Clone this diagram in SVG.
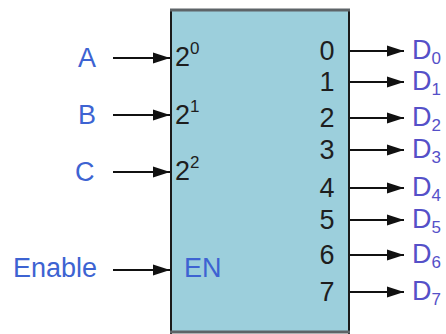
<svg xmlns="http://www.w3.org/2000/svg" width="446" height="334" viewBox="0 0 446 334">
  <style>
    .lbl { font-family: "Liberation Sans", Arial, sans-serif; font-size: 27px; fill: #3d63d2; }
    .out { font-family: "Liberation Sans", Arial, sans-serif; font-size: 27px; fill: #5550c8; }
    .pin { font-family: "Liberation Sans", Arial, sans-serif; font-size: 27px; fill: #1e1e1e; }
    .sup { font-size: 17px; }
    .wire { stroke: #111; stroke-width: 2; fill: none; marker-end: url(#head); }
  </style>
  <defs>
    <marker id="head" markerUnits="userSpaceOnUse" markerWidth="17" markerHeight="12" refX="17" refY="6" orient="auto">
      <polygon points="0,0.5 17,6 0,11.5" fill="#111"/>
    </marker>
  </defs>
  <rect width="446" height="334" fill="#ffffff"/>

  <!-- decoder block -->
  <g id="decoder">
    <rect x="171" y="9" width="178" height="324" fill="#9ccfdc"/>
    <line x1="171" y1="9" x2="171" y2="334" stroke="#1a1a1a" stroke-width="2"/>
    <line x1="349" y1="9" x2="349" y2="334" stroke="#1a1a1a" stroke-width="2"/>
    <line x1="170" y1="10" x2="350" y2="10" stroke="#5e6468" stroke-width="3"/>
    <line x1="170" y1="332" x2="350" y2="332" stroke="#5e6468" stroke-width="3"/>
    <!-- input pins -->
    <text class="pin" x="175" y="66">2<tspan class="sup" dy="-12">0</tspan></text>
    <text class="pin" x="175" y="124">2<tspan class="sup" dy="-12">1</tspan></text>
    <text class="pin" x="175" y="180">2<tspan class="sup" dy="-12">2</tspan></text>
    <text class="lbl" x="184" y="277">EN</text>
    <!-- output pins -->
    <g text-anchor="middle">
      <text class="pin" x="327" y="60">0</text>
      <text class="pin" x="327" y="91">1</text>
      <text class="pin" x="327" y="127">2</text>
      <text class="pin" x="327" y="159">3</text>
      <text class="pin" x="327" y="197">4</text>
      <text class="pin" x="327" y="229">5</text>
      <text class="pin" x="327" y="264">6</text>
      <text class="pin" x="327" y="301">7</text>
    </g>
  </g>

  <!-- input labels -->
  <g id="inputs">
    <text class="lbl" x="78" y="67">A</text>
    <text class="lbl" x="78" y="124">B</text>
    <text class="lbl" x="75" y="181">C</text>
    <text class="lbl" x="13" y="277">Enable</text>
  </g>

  <!-- output labels -->
  <g id="outputs">
    <text class="out" x="412" y="59">D<tspan class="sup" dy="5">0</tspan></text>
    <text class="out" x="412" y="90">D<tspan class="sup" dy="5">1</tspan></text>
    <text class="out" x="412" y="126">D<tspan class="sup" dy="5">2</tspan></text>
    <text class="out" x="412" y="158">D<tspan class="sup" dy="5">3</tspan></text>
    <text class="out" x="412" y="196">D<tspan class="sup" dy="5">4</tspan></text>
    <text class="out" x="412" y="228">D<tspan class="sup" dy="5">5</tspan></text>
    <text class="out" x="412" y="263">D<tspan class="sup" dy="5">6</tspan></text>
    <text class="out" x="412" y="300">D<tspan class="sup" dy="5">7</tspan></text>
  </g>

  <!-- connectors -->
  <g id="connectors">
    <line class="wire" x1="113" y1="58" x2="170" y2="58"/>
    <line class="wire" x1="113" y1="115" x2="170" y2="115"/>
    <line class="wire" x1="113" y1="172" x2="170" y2="172"/>
    <line class="wire" x1="113" y1="270" x2="170" y2="270"/>
    <line class="wire" x1="350" y1="51" x2="404" y2="51"/>
    <line class="wire" x1="350" y1="82" x2="404" y2="82"/>
    <line class="wire" x1="350" y1="118" x2="404" y2="118"/>
    <line class="wire" x1="350" y1="150" x2="404" y2="150"/>
    <line class="wire" x1="350" y1="188" x2="404" y2="188"/>
    <line class="wire" x1="350" y1="220" x2="404" y2="220"/>
    <line class="wire" x1="350" y1="255" x2="404" y2="255"/>
    <line class="wire" x1="350" y1="292" x2="404" y2="292"/>
  </g>
</svg>
